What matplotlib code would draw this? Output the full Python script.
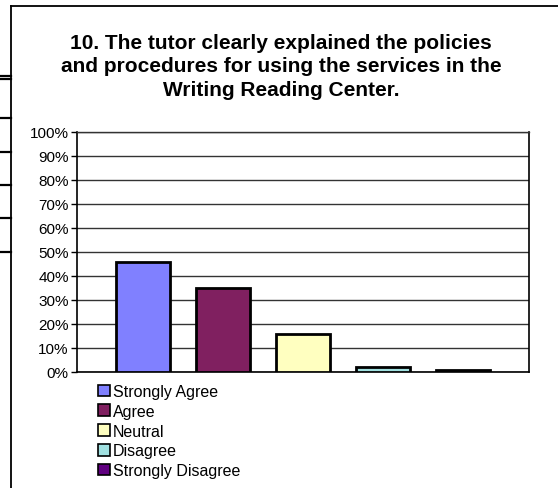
import matplotlib
matplotlib.use("Agg")
import matplotlib.pyplot as plt
from matplotlib.lines import Line2D
from matplotlib.patches import Patch
from matplotlib.ticker import FuncFormatter

categories = ["Strongly Agree", "Agree", "Neutral", "Disagree", "Strongly Disagree"]
values = [46, 35, 16, 2, 1]
colors = ["#8080FF", "#802060", "#FFFFC0", "#A0E0E0", "#600080"]
title = ("10. The tutor clearly explained the policies\n"
         "and procedures for using the services in the\n"
         "Writing Reading Center.")

plt.rcParams['font.family'] = ['Liberation Sans', 'DejaVu Sans']

W, H = 558, 489
fig = plt.figure(figsize=(W / 100, H / 100), dpi=100)
ax = fig.add_axes([77 / W, 1 - 373 / H, (529 - 77) / W, (373 - 133) / H])

x = list(range(len(categories)))
ax.bar(x, values, width=0.67, color=colors, edgecolor="black", linewidth=2, zorder=3)

ax.set_xlim(-0.825, 4.825)
ax.set_ylim(0, 100)
ax.set_yticks(range(0, 101, 10))
ax.yaxis.set_major_formatter(FuncFormatter(lambda v, p: f"{int(v)}%"))
ax.set_xticks([])
ax.tick_params(axis="y", length=4, width=1, labelsize=11, pad=2)
ax.grid(axis="y", color="#333333", linewidth=1, zorder=0)
for side in ["left", "bottom", "right"]:
    ax.spines[side].set_color("black")
    ax.spines[side].set_linewidth(1.2)
ax.spines["top"].set_color("#333333")
ax.spines["top"].set_linewidth(1)

fig.text(281 / W, 1 - 67 / H, title, ha="center", va="center", fontsize=15,
         fontweight="bold", linespacing=1.3)

# legend below the chart
handles = [Patch(facecolor=c, edgecolor="black", linewidth=1.2) for c in colors]
fig.legend(handles, categories, loc="upper left", bbox_to_anchor=(98 / W, 1 - 385 / H),
           frameon=False, fontsize=11.5, handlelength=0.75, handleheight=0.75,
           handletextpad=0.2, labelspacing=0.3, borderpad=0, borderaxespad=0)

# frame of the chart object and stray page lines to the left
fig.add_artist(Line2D([11 / W, 11 / W], [0, 1 - 7 / H], color="black", linewidth=1.3))
fig.add_artist(Line2D([11 / W, 1], [1 - 7 / H, 1 - 7 / H], color="black", linewidth=1.3))
for yy in [77, 80, 119, 153, 186, 219, 253]:
    fig.add_artist(Line2D([0, 11 / W], [1 - yy / H, 1 - yy / H], color="black", linewidth=1.6))

fig.savefig("out.png", dpi=100)
